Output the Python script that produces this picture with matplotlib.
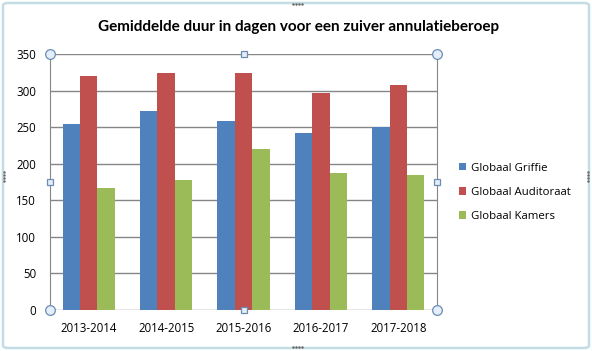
import matplotlib.pyplot as plt
import numpy as np
from matplotlib.patches import FancyBboxPatch
from matplotlib.lines import Line2D

years = ['2013-2014', '2014-2015', '2015-2016', '2016-2017', '2017-2018']
griffie = [254, 272, 258, 242, 250]
auditoraat = [320, 324, 324, 297, 308]
kamers = [167, 178, 220, 187, 185]
labels = ['Globaal Griffie', 'Globaal Auditoraat', 'Globaal Kamers']
colors = ['#4F81BD', '#C0504D', '#9BBB59']

plt.rcParams['font.family'] = ['Open Sans', 'DejaVu Sans']

fig = plt.figure(figsize=(5.92, 3.51), dpi=100)
ax = fig.add_axes([50 / 592, 41 / 351, 387 / 592, 256 / 351])

x = np.arange(len(years))
w = 0.224
for i, vals in enumerate([griffie, auditoraat, kamers]):
    ax.bar(x + (i - 1) * w, vals, w, color=colors[i], label=labels[i], zorder=3)

ax.set_xlim(-0.5, len(years) - 0.5)
ax.set_ylim(0, 350)
ax.set_yticks(range(0, 351, 50))
ax.set_xticks(x)
ax.set_xticklabels(years)
ax.grid(axis='y', color='#868686', linewidth=1, zorder=0)
ax.tick_params(length=0, labelsize=8.3, colors='black')
ax.tick_params(axis='y', pad=10)
ax.tick_params(axis='x', pad=9)
for s in ['top', 'bottom']:
    ax.spines[s].set_visible(False)
for s in ['left', 'right']:
    ax.spines[s].set_color('#868686')
    ax.spines[s].set_zorder(4)

fig.text(0.505, 0.923, 'Gemiddelde duur in dagen voor een zuiver annulatieberoep',
         ha='center', va='center', fontsize=11, fontweight='bold', family='Lato')

leg = ax.legend(loc='center left', bbox_to_anchor=(1.03, 0.46), frameon=False,
                fontsize=8.2, handlelength=0.65, handleheight=0.65, handletextpad=0.4,
                labelspacing=1.15)

# selection handles on the plot area
hx = [0, 0.5, 1, 0, 1, 0, 0.5, 1]
hy = [1, 1, 1, 0.5, 0.5, 0, 0, 0]
for px, py in zip(hx, hy):
    mk = 's' if (px == 0.5 or py == 0.5) else 'o'
    ax.plot(px, py, marker=mk, transform=ax.transAxes, ms=5 if mk == 's' else 7,
            mfc='#e3eef8', mec='#6b8db5', mew=0.9, clip_on=False, zorder=6)

# chart border
fig.add_artist(FancyBboxPatch((3 / 592, 3 / 351), 586 / 592, 345 / 351,
                              boxstyle='round,pad=0,rounding_size=0.008',
                              transform=fig.transFigure, fill=False,
                              ec='#c3dde4', lw=1.8))
for (fx, fy, dx, dy) in [(296, 4, 3, 0), (296, 347, 3, 0), (4, 175, 0, 3), (588, 175, 0, 3)]:
    for k in range(-1, 3):
        fig.add_artist(Line2D([(fx + k * dx) / 592], [1 - (fy + k * dy) / 351], marker='.',
                              ms=1.5, color='#666666', transform=fig.transFigure))

fig.savefig('out.png', dpi=100)
